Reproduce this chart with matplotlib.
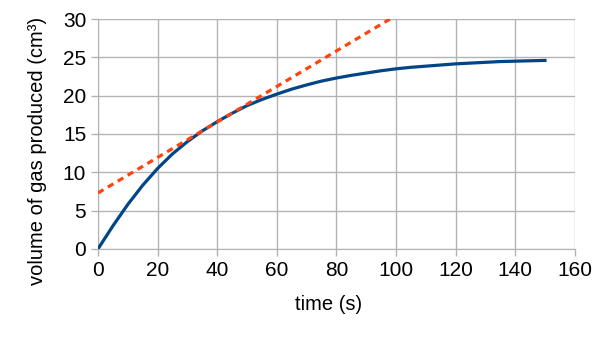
import matplotlib
matplotlib.use("Agg")
import matplotlib.pyplot as plt

plt.rcParams["font.family"] = ["Liberation Sans", "DejaVu Sans"]

# reaction curve
time_s = [0, 5, 10, 15, 20, 25, 30, 35, 40, 45, 50, 55, 60, 65, 70, 75,
          80, 85, 90, 95, 100, 105, 110, 115, 120, 125, 130, 135, 140, 145, 150]
volume = [0, 3.0, 5.8, 8.3, 10.5, 12.4, 14.0, 15.4, 16.6, 17.7, 18.7, 19.5,
          20.2, 20.85, 21.4, 21.9, 22.3, 22.65, 22.95, 23.25, 23.5, 23.7, 23.85,
          24.0, 24.15, 24.25, 24.35, 24.45, 24.5, 24.55, 24.6]

# tangent line
tangent_t = [0, 98]
tangent_v = [7.3, 30]

x_ticks = [0, 20, 40, 60, 80, 100, 120, 140, 160]
y_ticks = [0, 5, 10, 15, 20, 25, 30]

fig = plt.figure(figsize=(6.05, 3.4), dpi=100)
ax = fig.add_axes([0.162, 0.268, 0.788, 0.676])

ax.plot(time_s, volume, color="#004586", linewidth=2.3, zorder=3)
ax.plot(tangent_t, tangent_v, color="#ff420e", linewidth=2.3,
        linestyle=(0, (2, 1.6)), zorder=4)

ax.set_xlim(0, 160)
ax.set_ylim(0, 30)
ax.set_xticks(x_ticks)
ax.set_yticks(y_ticks)
ax.grid(True, color="#b3b3b3", linewidth=1)
ax.set_axisbelow(True)
for side in ["top", "right"]:
    ax.spines[side].set_visible(False)
for side in ["left", "bottom"]:
    ax.spines[side].set_color("#b3b3b3")
ax.tick_params(colors="#b3b3b3", labelcolor="black", labelsize=15,
               length=5, width=1)

ax.set_xlabel("time (s)", fontsize=14.5)
ax.set_ylabel("volume of gas produced (cm³)", fontsize=14.5)
ax.xaxis.set_label_coords(0.484, -0.2)
ax.yaxis.set_label_coords(-0.108, 0.426)

fig.savefig("out.png", dpi=100)
